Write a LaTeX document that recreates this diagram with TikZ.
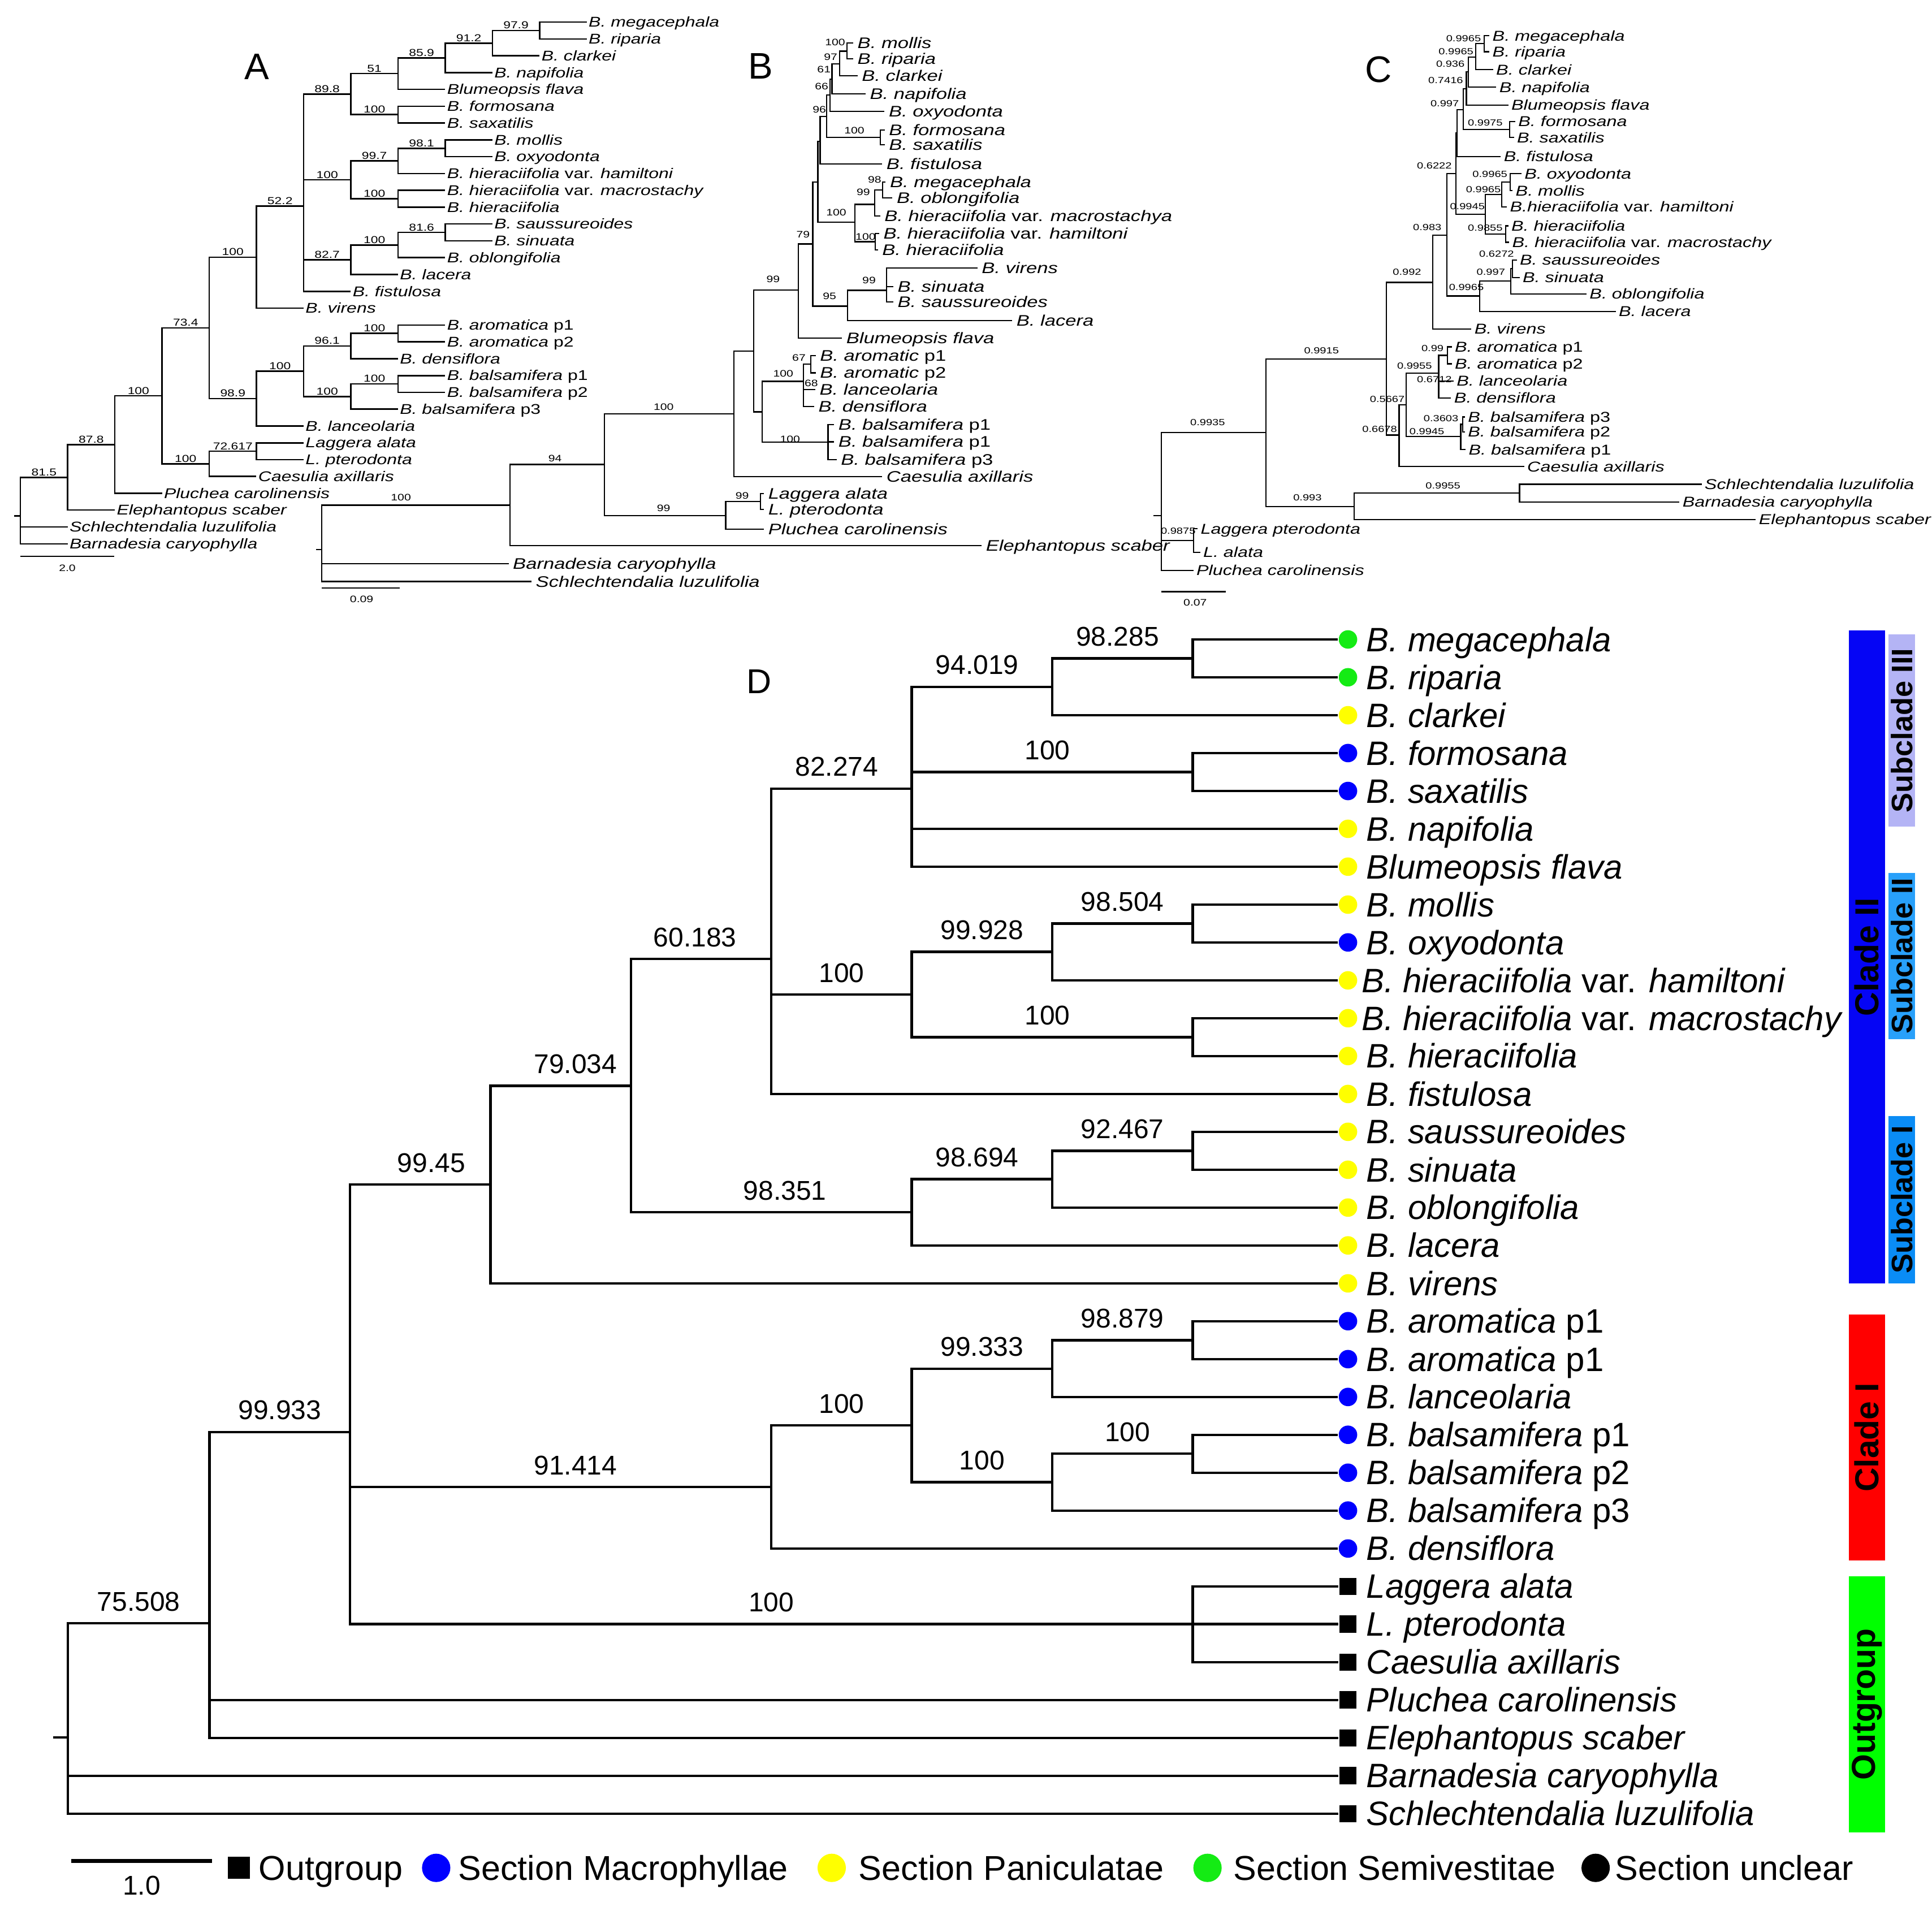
\documentclass[tikz,border=0pt]{standalone}
\usepackage{fontspec}
\setmainfont{Liberation Sans}
\newfontfamily\widefont[FakeStretch=1.28]{Liberation Sans}
\definecolor{cgr}{RGB}{20,235,20}
\definecolor{cbl}{RGB}{0,0,255}
\definecolor{cye}{RGB}{255,255,0}
\definecolor{barblue}{RGB}{5,5,245}
\definecolor{barred}{RGB}{255,0,0}
\definecolor{bargreen}{RGB}{0,255,0}
\definecolor{sub3}{RGB}{180,180,245}
\definecolor{sub2}{RGB}{40,160,250}
\definecolor{sub1}{RGB}{10,140,245}
\tikzset{
 tA/.style={anchor=west, inner xsep=0.5pt, inner ysep=0pt, text height=4.0pt, text depth=0pt, font=\widefont\fontsize{5.73}{6}\selectfont},
 tB/.style={anchor=west, inner xsep=1.5pt, inner ysep=0pt, text height=4.35pt, text depth=0pt, font=\widefont\fontsize{6.2}{7}\selectfont},
 tC/.style={anchor=west, inner xsep=1pt, inner ysep=0pt, text height=4.05pt, text depth=0pt, font=\widefont\fontsize{5.8}{6}\selectfont},
 labA/.style={anchor=south, inner xsep=0pt, inner ysep=0.4pt, text depth=0pt, font=\widefont\fontsize{4.1}{5}\selectfont},
 labB/.style={inner sep=0pt, font=\widefont\fontsize{3.8}{4}\selectfont},
 labC/.style={inner sep=0pt, font=\widefont\fontsize{3.6}{4}\selectfont},
 labD/.style={anchor=south, inner xsep=0pt, inner ysep=4.5pt, text depth=0pt, font=\fontsize{11}{12}\selectfont},
 tD/.style={anchor=west, inner sep=0pt, text height=9.7pt, text depth=0pt, font=\fontsize{13.75}{16}\selectfont},
 dot/.style={circle, inner sep=0pt, minimum size=7.5pt},
 sqm/.style={rectangle, fill=black, inner sep=0pt, minimum size=7pt},
 panel/.style={font=\fontsize{15}{16}\selectfont, inner sep=0pt},
 barn/.style={rotate=90, inner sep=0pt, font=\bfseries\fontsize{13.5}{14}\selectfont},
 subn/.style={rotate=90, inner sep=0pt, font=\bfseries\fontsize{12}{13}\selectfont},
 lgt/.style={anchor=west, inner sep=0pt, text height=10pt, text depth=0pt, font=\fontsize{14}{16}\selectfont},
}
\newcommand\ed[2]{\draw (#1) |- (#2);}
\newcommand\edl[3]{\draw (#1) |- node[lbl,pos=0.75]{#3} (#2);}
\newcommand\edlx[4]{\draw (#1) |- node[lbl,pos=0.75,xshift=#4]{#3} (#2);}
\newcommand\dtip[5]{\node[#3] (m#1) at (1094,#2) {}; \node[tD] (n#1) at (#4,#2) {#5};}
\begin{document}
\begin{tikzpicture}[x=0.5pt,y=-0.5pt]
\useasboundingbox (0,0) rectangle (1568,1551);

% ================= Panel A =================
\begin{scope}[line width=0.6pt, lbl/.style={labA}]
\node[panel] (pA) at (208.6,54.3) {A};
\coordinate (aR) at (16.6,418.8);
\coordinate (aRs) at (11.6,418.8);
\coordinate (a815) at (54.9,387.4);
\coordinate (a878) at (93.2,360.85);
\coordinate (a100a) at (131.5,321.3);
\coordinate (a100b) at (169.8,376.5);
\coordinate (a72) at (208.1,366.25);
\coordinate (a734) at (169.8,266.1);
\coordinate (a100c) at (208.1,208.75);
\coordinate (a522) at (246.4,167.4);
\coordinate (a898) at (284.7,76.4);
\coordinate (a51) at (323.0,59.7);
\coordinate (a859) at (361.3,46.9);
\coordinate (a912) at (399.6,35.0);
\coordinate (a979) at (437.9,24.75);
\coordinate (a100e) at (323.0,93.05);
\coordinate (a100d) at (284.7,146.0);
\coordinate (a997) at (323.0,130.6);
\coordinate (a981) at (361.3,120.35);
\coordinate (a100f) at (323.0,161.35);
\coordinate (a827) at (284.7,210.85);
\coordinate (a100g) at (323.0,198.9);
\coordinate (a816) at (361.3,188.65);
\coordinate (a989) at (208.1,323.5);
\coordinate (a100h) at (246.4,301.35);
\coordinate (a961) at (284.7,280.85);
\coordinate (a100j) at (323.0,270.6);
\coordinate (a100i) at (284.7,321.85);
\coordinate (a100k) at (323.0,311.6);
\node[tA] (at0) at (476.2,17.9) {\textit{B. megacephala}};
\node[tA] (at1) at (476.2,31.6) {\textit{B. riparia}};
\node[tA] (at2) at (437.9,45.2) {\textit{B. clarkei}};
\node[tA] (at3) at (399.6,58.9) {\textit{B. napifolia}};
\node[tA] (at4) at (361.3,72.5) {\textit{Blumeopsis flava}};
\node[tA] (at5) at (361.3,86.2) {\textit{B. formosana}};
\node[tA] (at6) at (361.3,99.9) {\textit{B. saxatilis}};
\node[tA] (at7) at (399.6,113.5) {\textit{B. mollis}};
\node[tA] (at8) at (399.6,127.2) {\textit{B. oxyodonta}};
\node[tA] (at9) at (361.3,140.8) {\textit{B. hieraciifolia} var. \textit{hamiltoni}};
\node[tA] (at10) at (361.3,154.5) {\textit{B. hieraciifolia} var. \textit{macrostachy}};
\node[tA] (at11) at (361.3,168.2) {\textit{B. hieraciifolia}};
\node[tA] (at12) at (399.6,181.8) {\textit{B. saussureoides}};
\node[tA] (at13) at (399.6,195.5) {\textit{B. sinuata}};
\node[tA] (at14) at (361.3,209.1) {\textit{B. oblongifolia}};
\node[tA] (at15) at (323.0,222.8) {\textit{B. lacera}};
\node[tA] (at16) at (284.7,236.5) {\textit{B. fistulosa}};
\node[tA] (at17) at (246.4,250.1) {\textit{B. virens}};
\node[tA] (at18) at (361.3,263.8) {\textit{B. aromatica} p1};
\node[tA] (at19) at (361.3,277.4) {\textit{B. aromatica} p2};
\node[tA] (at20) at (323.0,291.1) {\textit{B. densiflora}};
\node[tA] (at21) at (361.3,304.8) {\textit{B. balsamifera} p1};
\node[tA] (at22) at (361.3,318.4) {\textit{B. balsamifera} p2};
\node[tA] (at23) at (323.0,332.1) {\textit{B. balsamifera} p3};
\node[tA] (at24) at (246.4,345.7) {\textit{B. lanceolaria}};
\node[tA] (at25) at (246.4,359.4) {\textit{Laggera alata}};
\node[tA] (at26) at (246.4,373.1) {\textit{L. pterodonta}};
\node[tA] (at27) at (208.1,386.7) {\textit{Caesulia axillaris}};
\node[tA] (at28) at (131.5,400.4) {\textit{Pluchea carolinensis}};
\node[tA] (at29) at (93.2,414.0) {\textit{Elephantopus scaber}};
\node[tA] (at30) at (54.9,427.7) {\textit{Schlechtendalia luzulifolia}};
\node[tA] (at31) at (54.9,441.4) {\textit{Barnadesia caryophylla}};
\draw (aRs) -- (aR);
\edl{aR}{a815}{81.5} \ed{aR}{at30.west} \ed{aR}{at31.west}
\edl{a815}{a878}{87.8} \ed{a815}{at29.west}
\edl{a878}{a100a}{100} \ed{a878}{at28.west}
\edl{a100a}{a734}{73.4} \edl{a100a}{a100b}{100}
\edl{a100b}{a72}{72.617} \ed{a100b}{at27.west}
\ed{a72}{at25.west} \ed{a72}{at26.west}
\edl{a734}{a100c}{100} \edl{a734}{a989}{98.9}
\edl{a100c}{a522}{52.2} \ed{a100c}{at17.west}
\edl{a522}{a898}{89.8} \edl{a522}{a100d}{100} \edl{a522}{a827}{82.7} \ed{a522}{at16.west}
\edl{a898}{a51}{51} \edl{a898}{a100e}{100}
\edl{a51}{a859}{85.9} \ed{a51}{at4.west}
\edl{a859}{a912}{91.2} \ed{a859}{at3.west}
\edl{a912}{a979}{97.9} \ed{a912}{at2.west}
\ed{a979}{at0.west} \ed{a979}{at1.west}
\ed{a100e}{at5.west} \ed{a100e}{at6.west}
\edl{a100d}{a997}{99.7} \edl{a100d}{a100f}{100}
\edl{a997}{a981}{98.1} \ed{a997}{at9.west}
\ed{a981}{at7.west} \ed{a981}{at8.west}
\ed{a100f}{at10.west} \ed{a100f}{at11.west}
\edl{a827}{a100g}{100} \ed{a827}{at15.west}
\edl{a100g}{a816}{81.6} \ed{a100g}{at14.west}
\ed{a816}{at12.west} \ed{a816}{at13.west}
\edl{a989}{a100h}{100} \ed{a989}{at24.west}
\edl{a100h}{a961}{96.1} \edl{a100h}{a100i}{100}
\edl{a961}{a100j}{100} \ed{a961}{at20.west}
\ed{a100j}{at18.west} \ed{a100j}{at19.west}
\edl{a100i}{a100k}{100} \ed{a100i}{at23.west}
\ed{a100k}{at21.west} \ed{a100k}{at22.west}
\coordinate (asa) at (16.6,451.6); \coordinate (asb) at (92.7,451.6);
\draw (asa) -- (asb);
\node[labB] (asl) at (54.6,461) {2.0};
\end{scope}

% ================= Panel B =================
\begin{scope}[line width=0.5pt]
\node[panel] (pB) at (617.4,53.7) {B};
\coordinate (bR) at (261,446);
\coordinate (bRs) at (256.6,446);
\coordinate (b100r) at (414,410);
\coordinate (b94) at (490.6,377);
\coordinate (b99L) at (589,418.6);
\coordinate (bLag) at (617,407);
\coordinate (b100b) at (595.5,336);
\coordinate (b611) at (611.5,285);
\coordinate (b618) at (618.5,334.3);
\coordinate (b100ar) at (652,309.5);
\coordinate (b67) at (658,295.7);
\coordinate (b100bl) at (672,359);
\coordinate (b99big) at (647.8,235.3);
\coordinate (b79) at (659.6,198);
\coordinate (b95) at (687.9,248.5);
\coordinate (b99v) at (719.5,235.6);
\coordinate (b664) at (663.8,147.6);
\coordinate (b665) at (665.6,114.6);
\coordinate (b96) at (671,94.5);
\coordinate (b66) at (673.7,77.2);
\coordinate (b61) at (675.2,64.2);
\coordinate (b97) at (681.4,51.8);
\coordinate (b100mr) at (687.4,41.5);
\coordinate (b100fs) at (714.6,111.6);
\coordinate (b100m) at (693.7,180.4);
\coordinate (b99m) at (710,165.9);
\coordinate (b98) at (716.4,154.2);
\coordinate (b100h) at (710.5,196.2);
\node[tB] (bt0) at (692.5,35) {\textit{B. mollis}};
\node[tB] (bt1) at (692.5,47.9) {\textit{B. riparia}};
\node[tB] (bt2) at (696,61.5) {\textit{B. clarkei}};
\node[tB] (bt3) at (702.5,76.3) {\textit{B. napifolia}};
\node[tB] (bt4) at (717.9,90.5) {\textit{B. oxyodonta}};
\node[tB] (bt5) at (718,105.7) {\textit{B. formosana}};
\node[tB] (bt6) at (718,117.5) {\textit{B. saxatilis}};
\node[tB] (bt7) at (716,133.2) {\textit{B. fistulosa}};
\node[tB] (bt8) at (718.8,147.6) {\textit{B. megacephala}};
\node[tB] (bt9) at (724.3,160.8) {\textit{B. oblongifolia}};
\node[tB] (bt10) at (714.3,175.4) {\textit{B. hieraciifolia} var. \textit{macrostachya}};
\node[tB] (bt11) at (713.5,189.5) {\textit{B. hieraciifolia} var. \textit{hamiltoni}};
\node[tB] (bt12) at (712.5,203) {\textit{B. hieraciifolia}};
\node[tB] (bt13) at (793.3,217.6) {\textit{B. virens}};
\node[tB] (bt14) at (725,232.5) {\textit{B. sinuata}};
\node[tB] (bt15) at (725,245.2) {\textit{B. saussureoides}};
\node[tB] (bt16) at (821.5,260.3) {\textit{B. lacera}};
\node[tB] (bt17) at (683.4,274.3) {\textit{Blumeopsis flava}};
\node[tB] (bt18) at (662,288.8) {\textit{B. aromatic} p1};
\node[tB] (bt19) at (662,302.6) {\textit{B. aromatic} p2};
\node[tB] (bt20) at (661.7,316) {\textit{B. lanceolaria}};
\node[tB] (bt21) at (660.8,330) {\textit{B. densiflora}};
\node[tB] (bt22) at (677,344.8) {\textit{B. balsamifera} p1};
\node[tB] (bt23) at (677,358.6) {\textit{B. balsamifera} p1};
\node[tB] (bt24) at (679,373) {\textit{B. balsamifera} p3};
\node[tB] (bt25) at (716,387) {\textit{Caesulia axillaris}};
\node[tB] (bt26) at (620,400.5) {\textit{Laggera alata}};
\node[tB] (bt27) at (620,413.5) {\textit{L. pterodonta}};
\node[tB] (bt28) at (620,429.5) {\textit{Pluchea carolinensis}};
\node[tB] (bt29) at (796.7,443) {\textit{Elephantopus scaber}};
\node[tB] (bt30) at (412.8,457.6) {\textit{Barnadesia caryophylla}};
\node[tB] (bt31) at (431.4,472) {\textit{Schlechtendalia luzulifolia}};
\draw (bRs) -- (bR);
\ed{bR}{b100r} \ed{bR}{bt30.west} \ed{bR}{bt31.west}
\ed{b100r}{b94} \ed{b100r}{bt29.west}
\ed{b94}{b100b} \ed{b94}{b99L}
\ed{b99L}{bLag} \ed{b99L}{bt28.west}
\ed{bLag}{bt26.west} \ed{bLag}{bt27.west}
\ed{b100b}{b611} \ed{b100b}{bt25.west}
\ed{b611}{b99big} \ed{b611}{b618}
\ed{b618}{b100ar} \ed{b618}{b100bl}
\ed{b100ar}{b67} \ed{b100ar}{bt20.west} \ed{b100ar}{bt21.west}
\ed{b67}{bt18.west} \ed{b67}{bt19.west}
\ed{b100bl}{bt22.west} \ed{b100bl}{bt23.west} \ed{b100bl}{bt24.west}
\ed{b99big}{b79} \ed{b99big}{bt17.west}
\ed{b79}{b664} \ed{b79}{b95}
\ed{b95}{b99v} \ed{b95}{bt16.west}
\ed{b99v}{bt13.west} \ed{b99v}{bt14.west} \ed{b99v}{bt15.west}
\ed{b664}{b665} \ed{b664}{b100m}
\ed{b665}{b96} \ed{b665}{bt7.west}
\ed{b96}{b66} \ed{b96}{b100fs}
\ed{b66}{b61} \ed{b66}{bt4.west}
\ed{b61}{b97} \ed{b61}{bt3.west}
\ed{b97}{b100mr} \ed{b97}{bt2.west}
\ed{b100mr}{bt0.west} \ed{b100mr}{bt1.west}
\ed{b100fs}{bt5.west} \ed{b100fs}{bt6.west}
\ed{b100m}{b99m} \ed{b100m}{b100h}
\ed{b99m}{b98} \ed{b99m}{bt10.west}
\ed{b98}{bt8.west} \ed{b98}{bt9.west}
\ed{b100h}{bt11.west} \ed{b100h}{bt12.west}
\node[labB] (bl1) at (677.8,34.1) {100};
\node[labB] (bl2) at (674.2,46.4) {97};
\node[labB] (bl3) at (668.7,56.4) {61};
\node[labB] (bl4) at (666.8,70) {66};
\node[labB] (bl5) at (665,89) {96};
\node[labB] (bl6) at (693.4,105.9) {100};
\node[labB] (bl7) at (709.8,145.8) {98};
\node[labB] (bl8) at (700.7,156.1) {99};
\node[labB] (bl9) at (678.7,172.4) {100};
\node[labB] (bl10) at (702.5,192) {100};
\node[labB] (bl11) at (651.8,190.5) {79};
\node[labB] (bl12) at (627.5,226.8) {99};
\node[labB] (bl13) at (673.2,240.4) {95};
\node[labB] (bl14) at (705.3,227.7) {99};
\node[labB] (bl15) at (648.4,290.4) {67};
\node[labB] (bl16) at (635.7,303.4) {100};
\node[labB] (bl17) at (658.4,311) {68};
\node[labB] (bl18) at (641.2,356.3) {100};
\node[labB] (bl19) at (602.3,402.3) {99};
\node[labB] (bl20) at (538.6,330.4) {100};
\node[labB] (bl21) at (450.5,372) {94};
\node[labB] (bl22) at (538.6,412.4) {99};
\node[labB] (bl23) at (325.4,403.7) {100};
\coordinate (bsa) at (261.2,477.4); \coordinate (bsb) at (324.5,477.4);
\draw (bsa) -- (bsb);
\node[labB] (bsl) at (293.5,486.5) {0.09};
\end{scope}

% ================= Panel C =================
\begin{scope}[line width=0.5pt]
\node[panel] (pC) at (1119,56.6) {C};
\coordinate (cR) at (942.4,418.5);
\coordinate (cRs) at (936.1,418.5);
\coordinate (c9935) at (1027.5,351.2);
\coordinate (c9875) at (968.8,438.8);
\coordinate (c993) at (1098.9,411.3);
\coordinate (c9955o) at (1233.2,400.2);
\coordinate (c9915) at (1125.1,291.5);
\coordinate (c992) at (1162.9,229.2);
\coordinate (c6678) at (1135.5,353.1);
\coordinate (c5667) at (1141.2,328.6);
\coordinate (c9955) at (1167.6,303);
\coordinate (c99) at (1174.8,288.4);
\coordinate (c9945b) at (1185.5,354.2);
\coordinate (c3603) at (1187,344.4);
\coordinate (c983) at (1174.4,190.9);
\coordinate (c6222) at (1181.7,141);
\coordinate (c9965e) at (1200.8,240.2);
\coordinate (c997b) at (1226.1,227.9);
\coordinate (c6272) at (1227.5,218.1);
\coordinate (cfis) at (1182.5,108);
\coordinate (c9945) at (1205.4,174.1);
\coordinate (c9965c) at (1218.9,158);
\coordinate (c9965d) at (1225.6,147.9);
\coordinate (c9855) at (1221.9,190);
\coordinate (c997) at (1187.4,89);
\coordinate (c7416) at (1190.1,71.9);
\coordinate (c9975) at (1225.3,105.2);
\coordinate (c936) at (1191.7,58.4);
\coordinate (c9965b) at (1197.8,46.2);
\coordinate (c9965a) at (1204.7,35.5);
\node[tC] (ct0) at (1208.8,29) {\textit{B. megacephala}};
\node[tC] (ct1) at (1208.8,42) {\textit{B. riparia}};
\node[tC] (ct2) at (1211.8,56.6) {\textit{B. clarkei}};
\node[tC] (ct3) at (1214.4,70.8) {\textit{B. napifolia}};
\node[tC] (ct4) at (1224.1,85.3) {\textit{Blumeopsis flava}};
\node[tC] (ct5) at (1229.7,98.6) {\textit{B. formosana}};
\node[tC] (ct6) at (1228.7,111.7) {\textit{B. saxatilis}};
\node[tC] (ct7) at (1218,127) {\textit{B. fistulosa}};
\node[tC] (ct8) at (1234.8,141) {\textit{B. oxyodonta}};
\node[tC] (ct9) at (1227.6,154.8) {\textit{B. mollis}};
\node[tC] (ct10) at (1223,168) {\textit{B.hieraciifolia} var. \textit{hamiltoni}};
\node[tC] (ct11) at (1224.1,183.3) {\textit{B. hieraciifolia}};
\node[tC] (ct12) at (1224.8,196.6) {\textit{B. hieraciifolia} var. \textit{macrostachy}};
\node[tC] (ct13) at (1231,211.1) {\textit{B. saussureoides}};
\node[tC] (ct14) at (1233.3,225.2) {\textit{B. sinuata}};
\node[tC] (ct15) at (1287.6,238.6) {\textit{B. oblongifolia}};
\node[tC] (ct16) at (1311.3,252.7) {\textit{B. lacera}};
\node[tC] (ct17) at (1194.2,267) {\textit{B. virens}};
\node[tC] (ct18) at (1178.2,281.5) {\textit{B. aromatica} p1};
\node[tC] (ct19) at (1178.2,295.3) {\textit{B. aromatica} p2};
\node[tC] (ct20) at (1179.7,309.1) {\textit{B. lanceolaria}};
\node[tC] (ct21) at (1177.7,323.1) {\textit{B. densiflora}};
\node[tC] (ct22) at (1188.9,338.4) {\textit{B. balsamifera} p3};
\node[tC] (ct23) at (1188.9,350.4) {\textit{B. balsamifera} p2};
\node[tC] (ct24) at (1189.5,364.9) {\textit{B. balsamifera} p1};
\node[tC] (ct25) at (1237,378.7) {\textit{Caesulia axillaris}};
\node[tC] (ct26) at (1381,393) {\textit{Schlechtendalia luzulifolia}};
\node[tC] (ct27) at (1363,407.3) {\textit{Barnadesia caryophylla}};
\node[tC] (ct28) at (1425,421.6) {\textit{Elephantopus scaber}};
\node[tC] (ct29) at (972,429.2) {\textit{Laggera pterodonta}};
\node[tC] (ct30) at (974,448.3) {\textit{L. alata}};
\node[tC] (ct31) at (968.5,462.9) {\textit{Pluchea carolinensis}};
\draw (cRs) -- (cR);
\ed{cR}{c9935} \ed{cR}{c9875} \ed{cR}{ct31.west}
\ed{c9935}{c9915} \ed{c9935}{c993}
\ed{c993}{c9955o} \ed{c993}{ct28.west}
\ed{c9955o}{ct26.west} \ed{c9955o}{ct27.west}
\ed{c9875}{ct29.west} \ed{c9875}{ct30.west}
\ed{c9915}{c992} \ed{c9915}{c6678}
\ed{c6678}{c5667} \ed{c6678}{ct25.west}
\ed{c5667}{c9955} \ed{c5667}{c9945b}
\ed{c9955}{c99} \ed{c9955}{ct20.west} \ed{c9955}{ct21.west}
\ed{c99}{ct18.west} \ed{c99}{ct19.west}
\ed{c9945b}{c3603} \ed{c9945b}{ct24.west}
\ed{c3603}{ct22.west} \ed{c3603}{ct23.west}
\ed{c992}{c983} \ed{c992}{ct17.west}
\ed{c983}{c6222} \ed{c983}{c9965e}
\ed{c9965e}{c997b} \ed{c9965e}{ct16.west}
\ed{c997b}{c6272} \ed{c997b}{ct15.west}
\ed{c6272}{ct13.west} \ed{c6272}{ct14.west}
\ed{c6222}{cfis} \ed{c6222}{c9945}
\ed{cfis}{c997} \ed{cfis}{ct7.west}
\ed{c997}{c7416} \ed{c997}{c9975}
\ed{c7416}{c936} \ed{c7416}{ct4.west}
\ed{c936}{c9965b} \ed{c936}{ct3.west}
\ed{c9965b}{c9965a} \ed{c9965b}{ct2.west}
\ed{c9965a}{ct0.west} \ed{c9965a}{ct1.west}
\ed{c9975}{ct5.west} \ed{c9975}{ct6.west}
\ed{c9945}{c9965c} \ed{c9945}{c9855}
\ed{c9965c}{c9965d} \ed{c9965c}{ct10.west}
\ed{c9965d}{ct8.west} \ed{c9965d}{ct9.west}
\ed{c9855}{ct11.west} \ed{c9855}{ct12.west}
\node[labC] (cl1) at (980.1,342.8) {0.9935};
\node[labC] (cl2) at (956.2,431) {0.9875};
\node[labC] (cl3) at (1061.1,404) {0.993};
\node[labC] (cl4) at (1171.1,394) {0.9955};
\node[labC] (cl5) at (1072.5,284.6) {0.9915};
\node[labC] (cl6) at (1141.9,220.6) {0.992};
\node[labC] (cl7) at (1119.7,348.5) {0.6678};
\node[labC] (cl8) at (1125.9,324) {0.5667};
\node[labC] (cl9) at (1148,296.8) {0.9955};
\node[labC] (cl10) at (1162.6,282.7) {0.99};
\node[labC] (cl11) at (1164.1,307.8) {0.6712};
\node[labC] (cl12) at (1158,350.4) {0.9945};
\node[labC] (cl13) at (1169.5,339.7) {0.3603};
\node[labC] (cl14) at (1158.3,184.3) {0.983};
\node[labC] (cl15) at (1164.1,134.6) {0.6222};
\node[labC] (cl16) at (1190.1,233.3) {0.9965};
\node[labC] (cl17) at (1210,220.6) {0.997};
\node[labC] (cl18) at (1214.6,206.2) {0.6272};
\node[labC] (cl19) at (1190.9,167.5) {0.9945};
\node[labC] (cl20) at (1203.9,153.7) {0.9965};
\node[labC] (cl21) at (1209.2,141.5) {0.9965};
\node[labC] (cl22) at (1205.4,185.1) {0.9855};
\node[labC] (cl23) at (1172.5,83.8) {0.997};
\node[labC] (cl24) at (1173.3,65) {0.7416};
\node[labC] (cl25) at (1205.4,99.4) {0.9975};
\node[labC] (cl26) at (1177.1,52) {0.936};
\node[labC] (cl27) at (1181.7,42) {0.9965};
\node[labC] (cl28) at (1187.8,31.3) {0.9965};
\coordinate (csa) at (942.4,480.2); \coordinate (csb) at (994.8,480.2);
\draw (csa) -- (csb);
\node[labB] (csl) at (970,489) {0.07};
\end{scope}

% ================= Panel D =================
\begin{scope}[line width=1pt, lbl/.style={labD}]
\node[font=\fontsize{14}{15}\selectfont, inner sep=0pt] (pD) at (616,553) {D};
\coordinate (dR) at (55,1410.2);
\coordinate (dRs) at (43,1410.2);
\coordinate (d75) at (170,1317.5);
\coordinate (d999) at (284,1162.2);
\coordinate (d9945) at (398,961.4);
\coordinate (d790) at (512,881.2);
\coordinate (d601) at (626,778.4);
\coordinate (d822) at (740,640.0);
\coordinate (d940) at (854,557.4);
\coordinate (d982) at (968,534.4);
\coordinate (d100fs) at (968,626.6);
\coordinate (d100a) at (740,807.2);
\coordinate (d999b) at (854,772.6);
\coordinate (d985) at (968,749.5);
\coordinate (d100mh) at (968,841.8);
\coordinate (d983) at (740,983.9);
\coordinate (d986) at (854,957.0);
\coordinate (d924) at (968,934.0);
\coordinate (d914) at (626,1206.9);
\coordinate (d100c) at (740,1156.9);
\coordinate (d993) at (854,1110.8);
\coordinate (d988) at (968,1087.7);
\coordinate (d100b) at (854,1203.0);
\coordinate (d100bp) at (968,1179.9);
\coordinate (d100L) at (968,1318.2);
\dtip{1}{519.0}{dot,fill=cgr}{1108}{\textit{B. megacephala}}
\dtip{2}{549.7}{dot,fill=cgr}{1108}{\textit{B. riparia}}
\dtip{3}{580.5}{dot,fill=cye}{1108}{\textit{B. clarkei}}
\dtip{4}{611.2}{dot,fill=cbl}{1108}{\textit{B. formosana}}
\dtip{5}{642.0}{dot,fill=cbl}{1108}{\textit{B. saxatilis}}
\dtip{6}{672.7}{dot,fill=cye}{1108}{\textit{B. napifolia}}
\dtip{7}{703.4}{dot,fill=cye}{1108}{\textit{Blumeopsis flava}}
\dtip{8}{734.2}{dot,fill=cye}{1108}{\textit{B. mollis}}
\dtip{9}{764.9}{dot,fill=cbl}{1108}{\textit{B. oxyodonta}}
\dtip{10}{795.7}{dot,fill=cye}{1104}{\textit{B. hieraciifolia} var. \textit{hamiltoni}}
\dtip{11}{826.4}{dot,fill=cye}{1104}{\textit{B. hieraciifolia} var. \textit{macrostachy}}
\dtip{12}{857.1}{dot,fill=cye}{1108}{\textit{B. hieraciifolia}}
\dtip{13}{887.9}{dot,fill=cye}{1108}{\textit{B. fistulosa}}
\dtip{14}{918.6}{dot,fill=cye}{1108}{\textit{B. saussureoides}}
\dtip{15}{949.4}{dot,fill=cye}{1108}{\textit{B. sinuata}}
\dtip{16}{980.1}{dot,fill=cye}{1108}{\textit{B. oblongifolia}}
\dtip{17}{1010.8}{dot,fill=cye}{1108}{\textit{B. lacera}}
\dtip{18}{1041.6}{dot,fill=cye}{1108}{\textit{B. virens}}
\dtip{19}{1072.3}{dot,fill=cbl}{1108}{\textit{B. aromatica} p1}
\dtip{20}{1103.1}{dot,fill=cbl}{1108}{\textit{B. aromatica} p1}
\dtip{21}{1133.8}{dot,fill=cbl}{1108}{\textit{B. lanceolaria}}
\dtip{22}{1164.5}{dot,fill=cbl}{1108}{\textit{B. balsamifera} p1}
\dtip{23}{1195.3}{dot,fill=cbl}{1108}{\textit{B. balsamifera} p2}
\dtip{24}{1226.0}{dot,fill=cbl}{1108}{\textit{B. balsamifera} p3}
\dtip{25}{1256.8}{dot,fill=cbl}{1108}{\textit{B. densiflora}}
\dtip{26}{1287.5}{sqm}{1108}{\textit{Laggera alata}}
\dtip{27}{1318.2}{sqm}{1108}{\textit{L. pterodonta}}
\dtip{28}{1349.0}{sqm}{1108}{\textit{Caesulia axillaris}}
\dtip{29}{1379.7}{sqm}{1108}{\textit{Pluchea carolinensis}}
\dtip{30}{1410.5}{sqm}{1108}{\textit{Elephantopus scaber}}
\dtip{31}{1441.2}{sqm}{1108}{\textit{Barnadesia caryophylla}}
\dtip{32}{1472.0}{sqm}{1108}{\textit{Schlechtendalia luzulifolia}}
\draw (dRs) -- (dR);
\edl{dR}{d75}{75.508} \ed{dR}{m31.west} \ed{dR}{m32.west}
\edl{d75}{d999}{99.933} \ed{d75}{m29.west} \ed{d75}{m30.west}
\edlx{d999}{d9945}{99.45}{4.5pt} \edlx{d999}{d914}{91.414}{6pt} \edl{d999}{d100L}{100}
\ed{d100L}{m26.west} \ed{d100L}{m27.west} \ed{d100L}{m28.west}
\edlx{d9945}{d790}{79.034}{6pt} \ed{d9945}{m18.west}
\edlx{d790}{d601}{60.183}{-2.5pt} \edlx{d790}{d983}{98.351}{5.5pt}
\edlx{d601}{d822}{82.274}{-2pt} \edl{d601}{d100a}{100} \ed{d601}{m13.west}
\edlx{d822}{d940}{94.019}{-2pt} \edlx{d822}{d100fs}{100}{-2pt} \ed{d822}{m6.west} \ed{d822}{m7.west}
\edlx{d940}{d982}{98.285}{-2pt} \ed{d940}{m3.west}
\ed{d982}{m1.west} \ed{d982}{m2.west}
\ed{d100fs}{m4.west} \ed{d100fs}{m5.west}
\edl{d100a}{d999b}{99.928} \edlx{d100a}{d100mh}{100}{-2pt}
\edl{d999b}{d985}{98.504} \ed{d999b}{m10.west}
\ed{d985}{m8.west} \ed{d985}{m9.west}
\ed{d100mh}{m11.west} \ed{d100mh}{m12.west}
\edlx{d983}{d986}{98.694}{-2pt} \ed{d983}{m17.west}
\edl{d986}{d924}{92.467} \ed{d986}{m16.west}
\ed{d924}{m14.west} \ed{d924}{m15.west}
\edl{d914}{d100c}{100} \ed{d914}{m25.west}
\edl{d100c}{d993}{99.333} \edl{d100c}{d100b}{100}
\edl{d993}{d988}{98.879} \ed{d993}{m21.west}
\ed{d988}{m19.west} \ed{d988}{m20.west}
\edlx{d100b}{d100bp}{100}{2pt} \ed{d100b}{m24.west}
\ed{d100bp}{m22.west} \ed{d100bp}{m23.west}
% clade bars
\node[barn, fill=barblue, minimum width=265pt, minimum height=14.7pt] (bar1) at (1515.1,776.7) {Clade II};
\node[subn, fill=sub3, minimum width=78pt, minimum height=10.9pt] (bar2) at (1543.4,592.9) {Subclade III};
\node[subn, fill=sub2, minimum width=67.5pt, minimum height=10.9pt] (bar3) at (1543.4,775.8) {Subclade II};
\node[subn, fill=sub1, minimum width=68pt, minimum height=10.9pt] (bar4) at (1543.4,973.7) {Subclade I};
\node[barn, fill=barred, minimum width=99.8pt, minimum height=14.7pt] (bar5) at (1515.1,1166.6) {Clade I};
\node[barn, fill=bargreen, minimum width=104pt, minimum height=14.7pt] (bar6) at (1515.1,1383.2) {Outgroup};
% scale and legend
\coordinate (dsa) at (58,1510.3); \coordinate (dsb) at (172,1510.3);
\draw[line width=1.5pt] (dsa) -- (dsb);
\node[font=\fontsize{11}{12}\selectfont, inner sep=0pt] (dsl) at (115,1530.5) {1.0};
\node[sqm, minimum size=9pt] (lg0) at (194,1516) {};
\node[lgt] (lgt0) at (209,1516) {Outgroup};
\node[dot, fill=cbl, minimum size=11.5pt] (lg1) at (354,1516) {};
\node[lgt] (lgt1) at (371,1516) {Section Macrophyllae};
\node[dot, fill=cye, minimum size=11.5pt] (lg2) at (675,1516) {};
\node[lgt] (lgt2) at (696,1516) {Section Paniculatae};
\node[dot, fill=cgr, minimum size=11.5pt] (lg3) at (980,1516) {};
\node[lgt] (lgt3) at (1000,1516) {Section Semivestitae};
\node[dot, fill=black, minimum size=11.5pt] (lg4) at (1295,1516) {};
\node[lgt] (lgt4) at (1310,1516) {Section unclear};
\end{scope}
\end{tikzpicture}
\end{document}
